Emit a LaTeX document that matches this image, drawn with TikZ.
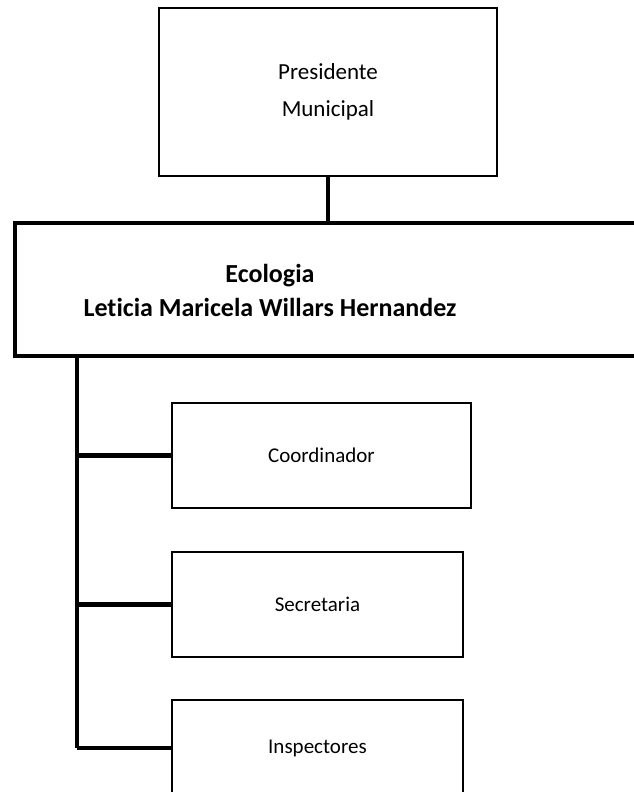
\documentclass[tikz,border=0pt]{standalone}
\usepackage{fontspec}
\setmainfont{Carlito}[Ligatures=NoCommon]
\usetikzlibrary{positioning}

\begin{document}
\begin{tikzpicture}[
    x = 1pt, y = -1pt, % page units
    line join = miter,
    thinbox/.style = {draw = black, line width = 1.9pt, fill = white, align = center},
    thickbox/.style = {draw = black, line width = 4.2pt, fill = white},
    trunk/.style = {draw = black, line width = 4.2pt}
    ]
    \useasboundingbox (0,0) rectangle (634,792);

    \tikzset{every node/.style = {inner sep = 0pt}}
    \node[thinbox, minimum width = 338pt, minimum height = 168pt,
        font = \fontsize{23}{37}\selectfont] (pres) at (328,92) {Presidente\\Municipal};
    \node[thickbox, anchor = north west, minimum width = 700pt, minimum height = 133pt] (eco) at (13,221) {};
    \node[align = center, font = \bfseries\fontsize{26}{34}\selectfont] (ecotxt) at (270,290)
        {Ecologia\\Leticia Maricela Willars Hernandez};

    \node[thinbox, anchor = north west, minimum width = 299pt, minimum height = 105pt,
        font = \fontsize{21}{25}\selectfont] (coord) at (171,402) {Coordinador};
    \node[thinbox, anchor = north west, minimum width = 291pt, minimum height = 105pt,
        font = \fontsize{21}{25}\selectfont] (secr) at (171,551) {Secretaria};
    \node[thinbox, anchor = north west, minimum width = 291pt, minimum height = 96pt,
        font = \fontsize{21}{25}\selectfont] (insp) at (171,699) {Inspectores};

    \coordinate (t) at (77,0);
    \path[trunk] (pres.south) -- (eco.north -| pres.south);
    \path[trunk] (eco.south -| t) -- (insp.west -| t);
    \path[trunk] (coord.west -| t) -- (coord.west);
    \path[trunk] (secr.west -| t) -- (secr.west);
    \path[trunk] (insp.west -| t) -- (insp.west);
\end{tikzpicture}
\end{document}
